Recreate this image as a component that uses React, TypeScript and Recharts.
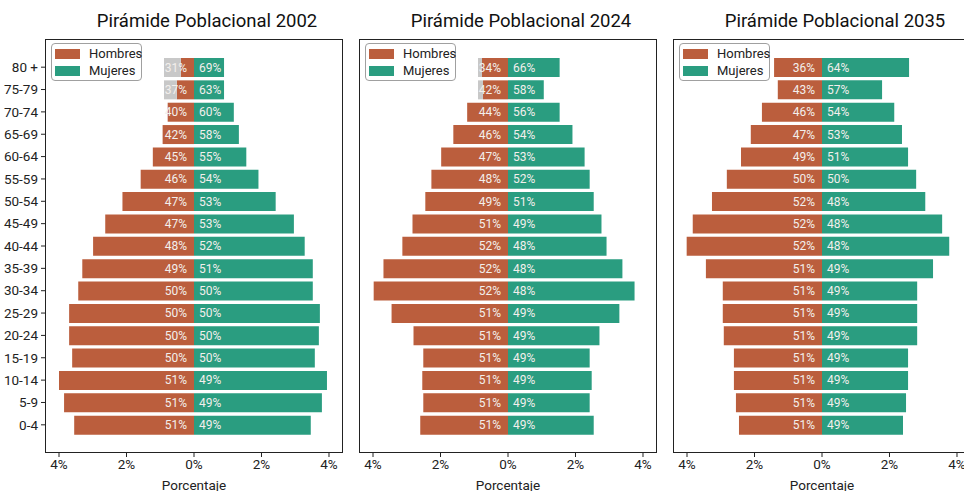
import React from 'react';
import { BarChart, Bar, XAxis, YAxis, LabelList } from 'recharts';

// Age groups, top to bottom
const ageGroups = [
  '80 +', '75-79', '70-74', '65-69', '60-64', '55-59', '50-54', '45-49', '40-44',
  '35-39', '30-34', '25-29', '20-24', '15-19', '10-14', '5-9', '0-4',
];

// Share of total population (%)
const hombres2002 = [0.39, 0.51, 0.78, 0.93, 1.22, 1.58, 2.12, 2.63, 2.99, 3.31, 3.43, 3.7, 3.7, 3.61, 4.0, 3.85, 3.55];
const mujeres2002 = [0.89, 0.89, 1.18, 1.33, 1.55, 1.91, 2.42, 2.96, 3.28, 3.52, 3.52, 3.73, 3.7, 3.58, 3.94, 3.79, 3.46];
const hombres2024 = [0.77, 0.74, 1.21, 1.62, 1.98, 2.27, 2.45, 2.83, 3.13, 3.69, 3.98, 3.45, 2.8, 2.51, 2.54, 2.51, 2.6];
const mujeres2024 = [1.53, 1.06, 1.53, 1.91, 2.27, 2.42, 2.54, 2.77, 2.92, 3.39, 3.75, 3.3, 2.71, 2.42, 2.48, 2.42, 2.54];
const hombres2035 = [1.42, 1.31, 1.78, 2.11, 2.4, 2.82, 3.26, 3.83, 4.01, 3.44, 2.94, 2.94, 2.91, 2.61, 2.61, 2.55, 2.46];
const mujeres2035 = [2.58, 1.78, 2.14, 2.37, 2.55, 2.79, 3.06, 3.56, 3.77, 3.29, 2.82, 2.82, 2.82, 2.55, 2.55, 2.49, 2.4];

// Share of each sex within the age group (%), as labelled on the bars
const pctH2002 = [31, 37, 40, 42, 45, 46, 47, 47, 48, 49, 50, 50, 50, 50, 51, 51, 51];
const pctM2002 = [69, 63, 60, 58, 55, 54, 53, 53, 52, 51, 50, 50, 50, 50, 49, 49, 49];
const pctH2024 = [34, 42, 44, 46, 47, 48, 49, 51, 52, 52, 52, 51, 51, 51, 51, 51, 51];
const pctM2024 = [66, 58, 56, 54, 53, 52, 51, 49, 48, 48, 48, 49, 49, 49, 49, 49, 49];
const pctH2035 = [36, 43, 46, 47, 49, 50, 52, 52, 52, 51, 51, 51, 51, 51, 51, 51, 51];
const pctM2035 = [64, 57, 54, 53, 51, 50, 48, 48, 48, 49, 49, 49, 49, 49, 49, 49, 49];

const xTicks = [-4, -2, 0, 2, 4];

const MALE = '#bb5e3d';
const FEMALE = '#2a9d80';
const LABEL = '#f3efec';
const FONT = 'Roboto, "DejaVu Sans", sans-serif';

const PLOT_W = 298;
const PLOT_H = 414;
const PLOT_TOP = 39;
const Y_W = 45;

function buildRows(h: number[], m: number[], ph: number[], pm: number[]) {
  return ageGroups.map((age, i) => ({
    age,
    h: -h[i],
    m: m[i],
    hLabel: ph[i],
    mLabel: pm[i],
  }));
}

function getBox(props: any) {
  const vb = props.viewBox && props.viewBox.width !== undefined ? props.viewBox : props;
  const x = Number(vb.x);
  const w = Number(vb.width);
  const y = Number(vb.y);
  const h = Number(vb.height);
  return { left: Math.min(x, x + w), right: Math.max(x, x + w), y, h };
}

function MaleLabel(props: any) {
  const { left, right, y, h } = getBox(props);
  const textRight = right - 7;
  const textLeft = textRight - 22;
  // grey backing only where the label sticks out past a short bar
  const overflow = right - left < 26 && left > textLeft + 2;
  return (
    <g>
      {overflow && (
        <rect x={textLeft - 1} y={y} width={left - textLeft + 1} height={h} fill="#c8c8c8" />
      )}
      <text
        x={textRight}
        y={y + h / 2}
        textAnchor="end"
        dominantBaseline="central"
        fontSize={12}
        fontFamily={FONT}
        fill={LABEL}
      >
        {props.value}%
      </text>
    </g>
  );
}

function FemaleLabel(props: any) {
  const { left, y, h } = getBox(props);
  return (
    <text
      x={left + 5}
      y={y + h / 2}
      textAnchor="start"
      dominantBaseline="central"
      fontSize={12}
      fontFamily={FONT}
      fill={LABEL}
    >
      {props.value}%
    </text>
  );
}

function LegendBox({ left }: { left: number }) {
  const item = (color: string, text: string, top: number) => (
    <div style={{ position: 'absolute', left: 3, top, height: 14, display: 'flex', alignItems: 'center' }}>
      <div style={{ width: 25, height: 10, background: color }} />
      <span style={{ marginLeft: 9, fontSize: 13, color: '#222', lineHeight: '14px' }}>{text}</span>
    </div>
  );
  return (
    <div
      style={{
        position: 'absolute',
        left: left + 6,
        top: PLOT_TOP + 4,
        width: 91,
        height: 38,
        boxSizing: 'border-box',
        border: '1px solid #a0a0a0',
        borderRadius: 4,
        background: 'rgba(255,255,255,0.85)',
      }}
    >
      {item(MALE, 'Hombres', 3)}
      {item(FEMALE, 'Mujeres', 20)}
    </div>
  );
}

function Pyramid({
  title,
  plotLeft,
  rows,
  showAges,
}: {
  title: string;
  plotLeft: number;
  rows: ReturnType<typeof buildRows>;
  showAges: boolean;
}) {
  return (
    <>
      <div
        style={{
          position: 'absolute',
          left: plotLeft + 13,
          width: PLOT_W,
          top: 9,
          textAlign: 'center',
          fontSize: 18.5,
          lineHeight: '24px',
          color: '#111',
        }}
      >
        {title}
      </div>
      <div style={{ position: 'absolute', left: plotLeft - Y_W, top: 0 }}>
        <BarChart
          width={Y_W + PLOT_W + 2}
          height={491}
          data={rows}
          layout="vertical"
          stackOffset="sign"
          margin={{ top: PLOT_TOP, right: 2, left: 0, bottom: 0 }}
        >
          <XAxis
            type="number"
            domain={[-4.415, 4.415]}
            ticks={xTicks}
            tickFormatter={(v: number) => `${Math.abs(v)}%`}
            height={38}
            axisLine={false}
            tickLine={{ stroke: '#222' }}
            tickSize={4}
            tick={{ fontSize: 13.5, fill: '#222', fontFamily: FONT }}
            label={{ value: 'Porcentaje', position: 'insideBottom', offset: 1, fontSize: 13.5, fill: '#222', fontFamily: FONT }}
          />
          <YAxis
            type="category"
            dataKey="age"
            width={Y_W}
            padding={{ top: 17, bottom: 17 }}
            axisLine={false}
            tickLine={{ stroke: '#222' }}
            tickSize={4}
            tickMargin={3}
            interval={0}
            tick={showAges ? { fontSize: 13.5, fill: '#222', fontFamily: FONT } : false}
          />
          <Bar dataKey="h" stackId="a" fill={MALE} barSize={19} isAnimationActive={false}>
            <LabelList dataKey="hLabel" content={MaleLabel} />
          </Bar>
          <Bar dataKey="m" stackId="a" fill={FEMALE} barSize={19} isAnimationActive={false}>
            <LabelList dataKey="mLabel" content={FemaleLabel} />
          </Bar>
        </BarChart>
      </div>
      <div
        style={{
          position: 'absolute',
          left: plotLeft,
          top: PLOT_TOP,
          width: PLOT_W,
          height: PLOT_H,
          boxSizing: 'border-box',
          border: '1px solid #222',
          pointerEvents: 'none',
        }}
      />
      <LegendBox left={plotLeft} />
    </>
  );
}

export default function App() {
  return (
    <div
      style={{
        position: 'absolute',
        left: 0,
        top: 0,
        width: 964,
        height: 491,
        overflow: 'hidden',
        background: '#fff',
        fontFamily: FONT,
      }}
    >
      <Pyramid
        title="Pirámide Poblacional 2002"
        plotLeft={45}
        rows={buildRows(hombres2002, mujeres2002, pctH2002, pctM2002)}
        showAges
      />
      <Pyramid
        title="Pirámide Poblacional 2024"
        plotLeft={359}
        rows={buildRows(hombres2024, mujeres2024, pctH2024, pctM2024)}
        showAges={false}
      />
      <Pyramid
        title="Pirámide Poblacional 2035"
        plotLeft={673}
        rows={buildRows(hombres2035, mujeres2035, pctH2035, pctM2035)}
        showAges={false}
      />
    </div>
  );
}
